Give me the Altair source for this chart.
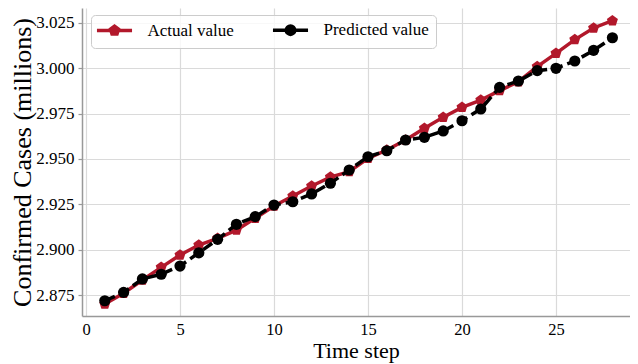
import altair as alt
import pandas as pd

# ---- data ----
steps = list(range(1, 29))
actual = [2.8701, 2.8760, 2.8833, 2.8903, 2.8971, 2.9026, 2.9063, 2.9108, 2.9173, 2.9241,
          2.9296, 2.9351, 2.9400, 2.9430, 2.9503, 2.9549, 2.9604, 2.9669, 2.9729, 2.9784,
          2.9824, 2.9876, 2.9925, 3.0008, 3.0081, 3.0157, 3.0221, 3.0261]
predicted = [2.8719, 2.8765, 2.8839, 2.8865, 2.8910, 2.8983, 2.9057, 2.9140, 2.9182, 2.9246,
             2.9264, 2.9307, 2.9366, 2.9439, 2.9512, 2.9545, 2.9604, 2.9619, 2.9654, 2.9710,
             2.9775, 2.9894, 2.9929, 2.9986, 2.9999, 3.0039, 3.0098, 3.0167]
series_names = ["Actual value", "Predicted value"]
series_colors = ["#b2182b", "#000000"]
x_ticks = [0, 5, 10, 15, 20, 25]
y_ticks = [2.875, 2.900, 2.925, 2.950, 2.975, 3.000, 3.025]

df_a = pd.DataFrame({"step": steps, "value": actual, "series": series_names[0]})
df_p = pd.DataFrame({"step": steps, "value": predicted, "series": series_names[1]})

FONT = "Liberation Serif"
PENT = "M0,-1L0.951,-0.309L0.588,0.809L-0.588,0.809L-0.951,-0.309Z"
LEG_PENT = ("M-2.6,0H2.6M0,-0.63L0.599,-0.195L0.37,0.51L-0.37,0.51L-0.599,-0.195Z")
LEG_CIRC = ("M-2.6,0H2.6M0.63,0A0.63,0.63,0,1,1,-0.63,0A0.63,0.63,0,1,1,0.63,0Z")

x_enc = alt.X(
    "step:Q",
    scale=alt.Scale(domain=[-0.213, 28.936], nice=False, zero=False),
    axis=alt.Axis(
        values=x_ticks, format="d", title="Time step",
        titleFontSize=22, titleY=41.5, titleBaseline="alphabetic",
        labelFontSize=16.5, labelPadding=5,
        ticks=False,
    ),
)
y_enc = alt.Y(
    "value:Q",
    scale=alt.Scale(domain=[2.8635, 3.0331], nice=False, zero=False),
    axis=alt.Axis(
        values=y_ticks, format=".3f", title="Confirmed Cases (millions)",
        titleFontSize=26,
        titleX=-60, titleY=154, titleAngle=-90, titleAlign="center", titleBaseline="middle",
        labelFontSize=17, labelPadding=4,
        ticks=True, tickSize=4, tickColor="#999999", tickWidth=1.2,
    ),
)

color_scale = alt.Scale(domain=series_names, range=series_colors)
expr_col = "datum.value == 'Actual value' ? '#b2182b' : '#000000'"
legend = alt.Legend(
    title=None, orient="none", legendX=9, legendY=7, direction="horizontal",
    symbolType={"expr": f"datum.value == 'Actual value' ? '{LEG_PENT}' : '{LEG_CIRC}'"},
    symbolSize=182, symbolStrokeWidth=3.5, symbolOpacity=1,
    symbolFillColor={"expr": expr_col}, symbolStrokeColor={"expr": expr_col},
    symbolOffset=8.5, labelOffset=24.5, columnPadding=31, padding=6.5,
    labelFontSize=17,
    strokeColor="#cccccc", fillColor="rgba(255,255,255,0.8)", cornerRadius=4,
)


def line_layer(df, col, dash):
    kw = dict(strokeWidth=3.5)
    if dash:
        kw["strokeDash"] = dash
    return alt.Chart(df).mark_line(**kw).encode(x=x_enc, y=y_enc, color=alt.value(col))


def point_layer(df, shape, size):
    return alt.Chart(df).mark_point(filled=True, opacity=1, size=size, shape=shape).encode(
        x=x_enc, y=y_enc,
        color=alt.Color("series:N", scale=color_scale, legend=legend),
    )


chart = alt.layer(
    line_layer(df_a, series_colors[0], None),
    point_layer(df_a, PENT, 134),
    line_layer(df_p, series_colors[1], [11, 5]),
    point_layer(df_p, "circle", 125),
).properties(
    width=548, height=308,
    autosize=alt.AutoSizeParams(type="none"),
    padding={"left": 74, "top": 0, "right": 0, "bottom": 48},
    background="white",
).configure(
    font=FONT,
).configure_axis(
    labelFont=FONT, titleFont=FONT, labelColor="black", titleColor="black",
    titleFontWeight="normal",
    domainColor="#999999", domainWidth=1.5,
    grid=True, gridColor="#dadada", gridWidth=1.2,
).configure_legend(
    labelFont=FONT, labelColor="black",
).configure_view(stroke=None)

chart.save("out.html", embed_options={"renderer": "svg", "actions": False})
